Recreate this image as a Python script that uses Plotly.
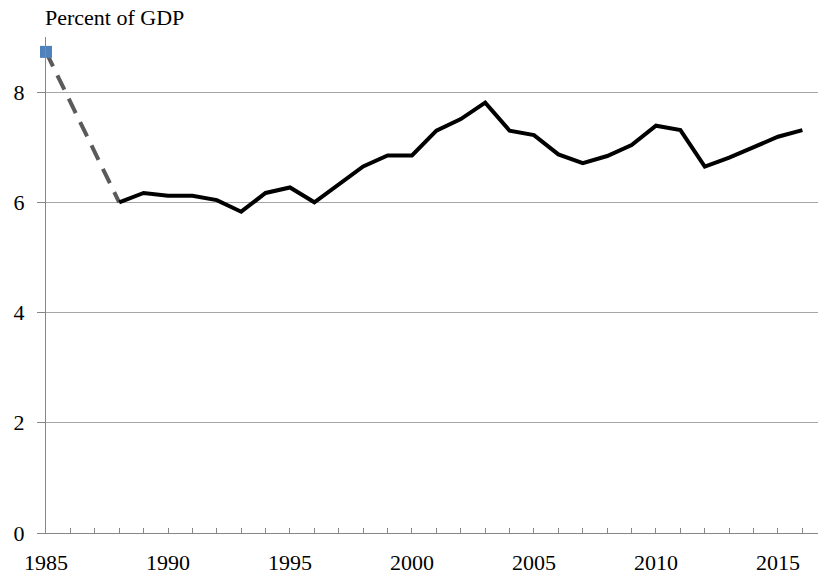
import plotly.graph_objects as go

years = list(range(1988, 2017))
values = [6.00, 6.17, 6.12, 6.12, 6.04, 5.83, 6.17, 6.27, 6.00, 6.32,
          6.65, 6.85, 6.85, 7.30, 7.51, 7.81, 7.30, 7.22, 6.87, 6.71,
          6.84, 7.04, 7.39, 7.31, 6.65, 6.81, 7.01, 7.19, 7.31]
proj_years = [1985, 1988]
proj_values = [8.73, 6.00]
marker_year = [1985]
marker_value = [8.73]
tick_years = [1985, 1990, 1995, 2000, 2005, 2010, 2015]
y_ticks = [0, 2, 4, 6, 8]

FONT = "Liberation Serif"

fig = go.Figure()
fig.add_trace(go.Scatter(x=proj_years, y=proj_values, mode="lines",
                         line=dict(color="#5a5a5a", width=4, dash="16px,10px"),
                         hoverinfo="skip", showlegend=False))
fig.add_trace(go.Scatter(x=years, y=values, mode="lines",
                         line=dict(color="#000000", width=4),
                         showlegend=False))
fig.add_trace(go.Scatter(x=marker_year, y=marker_value, mode="markers",
                         marker=dict(symbol="square", size=12, color="#4F81BD"),
                         showlegend=False, cliponaxis=False))

fig.update_layout(
    width=818, height=577,
    margin=dict(l=46, r=0, t=37, b=44),
    paper_bgcolor="white", plot_bgcolor="white",
    font=dict(family=FONT, size=22, color="#000000"),
    xaxis=dict(range=[1985, 2016.64], tickvals=tick_years,
               ticktext=[str(t) for t in tick_years],
               ticks="inside", ticklen=5, tickcolor="#868686", tickwidth=1,
               minor=dict(dtick=1, tick0=1985, ticks="inside", ticklen=5,
                          tickcolor="#868686", tickwidth=1, showgrid=False),
               showline=True, linecolor="#868686", linewidth=1,
               showgrid=False, zeroline=False, ticklabelstandoff=10,
               automargin=False,
               tickfont=dict(family=FONT, size=22)),
    yaxis=dict(range=[0, 9], tickvals=y_ticks,
               ticks="outside", ticklen=8, tickcolor="#868686", tickwidth=1,
               showline=True, linecolor="#868686", linewidth=1,
               showgrid=True, gridcolor="#a6a6a6", gridwidth=1,
               zeroline=False, ticklabelstandoff=8, automargin=False,
               tickfont=dict(family=FONT, size=22)),
    annotations=[dict(text="Percent of GDP", xref="paper", yref="paper",
                      x=-0.004, y=1.0, yshift=34, xanchor="left", yanchor="top",
                      showarrow=False, font=dict(family=FONT, size=22))],
)

fig.write_html("out.html", config={"displayModeBar": False},
               post_script="document.body.style.margin='0px';document.body.style.overflow='hidden';")
